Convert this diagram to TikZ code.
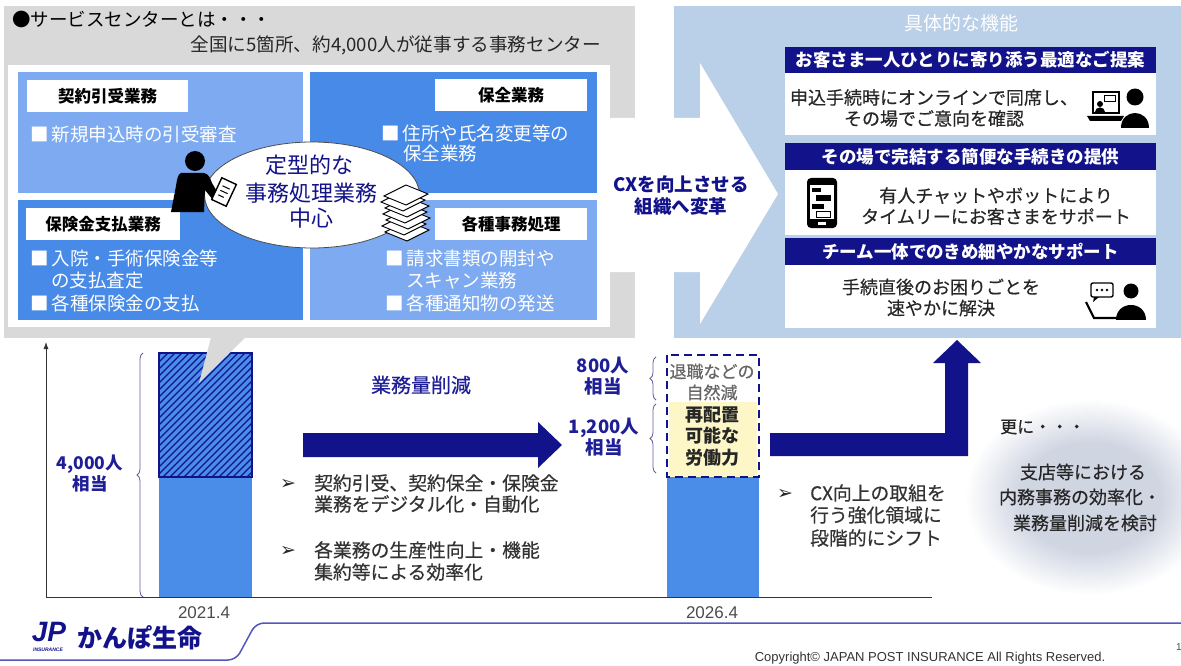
\documentclass[tikz,border=0pt]{standalone}
\usepackage{fontspec}
\setmainfont{Noto Sans CJK JP}
\newfontfamily\medfont{Noto Sans CJK JP}[FakeBold=0.4]
\newfontfamily\symfont{DejaVu Sans}
\newfontfamily\arialfont{Liberation Sans}
\usetikzlibrary{shapes.geometric,decorations.pathreplacing,arrows.meta}
\definecolor{navy}{RGB}{18,18,138}
\definecolor{labelnavy}{RGB}{30,30,150}
\definecolor{panelgray}{RGB}{217,217,217}
\definecolor{lightpanel}{RGB}{186,207,232}
\definecolor{qlight}{RGB}{125,170,240}
\definecolor{qdark}{RGB}{72,138,231}
\definecolor{barblue}{RGB}{74,141,233}
\definecolor{softyellow}{RGB}{253,246,198}
\definecolor{footerblue}{RGB}{85,85,190}
\definecolor{glow}{RGB}{208,213,226}
\pgfdeclareradialshading{softglow}{\pgfpoint{0bp}{0bp}}{color(0bp)=(glow); color(14bp)=(glow); color(25bp)=(white); color(50bp)=(white)}
\newcommand\fsz[2]{\fontsize{#1pt}{#2pt}\selectfont}
\begin{document}
\begin{tikzpicture}[x=1pt,y=-1pt,
  every node/.style={inner sep=0pt},
  quad/.style={minimum width=#1, minimum height=120pt},
  qtext/.style={text=white, font=\fsz{18.5}{22}, anchor=west},
  qhead/.style={fill=white, text=black, font=\bfseries\fsz{16.5}{19}, minimum width=#1, minimum height=32pt},
  bandhead/.style={fill=navy, text=white, font=\bfseries\fsz{17.5}{20}, minimum width=371pt, minimum height=#1},
  bandbody/.style={fill=white, minimum width=371pt, minimum height=#1},
  body/.style={text=black!85, font=\medfont\fsz{18}{21}, align=center},
  navylbl/.style={text=labelnavy, font=\bfseries\fsz{#1}{21}, align=center},
  note/.style={text=black!80, font=\medfont\fsz{18.8}{21}, anchor=west},
  bullet/.style={text=black!85, font=\symfont\fsz{19}{20}},
  year/.style={text=black!70, font=\arialfont\fsz{17}{19}},
  curly/.style={decorate, decoration={brace, amplitude=6pt}, draw=blue!25!gray, line width=0.8pt},
]
\useasboundingbox (0,0) rectangle (1181,666);
\fill[white] (0,0) rectangle (1181,666);

% ---------- service centre panel ----------
\fill[panelgray] (4,6) rectangle (635,338);
\node[anchor=west, font=\fsz{18.5}{20}, text=black] (title) at (12,19) {●サービスセンターとは・・・};
\node[anchor=east, font=\fsz{18.6}{20}, text=black!85] (subtitle) at (601,45) {全国に5箇所、約4,000人が従事する事務センター};
\fill[white] (8,65) rectangle (610,327);

\node[quad=285pt, fill=qlight] (q1) at (160.5,132.5) {};
\node[quad=287pt, fill=qdark]  (q2) at (453.5,132.5) {};
\node[quad=285pt, fill=qdark]  (q3) at (160.5,260) {};
\node[quad=287pt, fill=qlight] (q4) at (453.5,260) {};

\node[qhead=161pt] (h1) at (107.5,96) {契約引受業務};
\node[qhead=152pt] (h2) at (511,95.5) {保全業務};
\node[qhead=154pt] (h3) at (103,224) {保険金支払業務};
\node[qhead=152pt] (h4) at (511,224) {各種事務処理};

\node[qtext] (t1) at (30,134) {■\hspace{3pt}新規申込時の引受審査};
\node[qtext] (t2a) at (381,133) {■\hspace{3pt}住所や氏名変更等の};
\node[qtext] (t2b) at (403,153) {保全業務};
\node[qtext] (t3a) at (30,258) {■\hspace{3pt}入院・手術保険金等};
\node[qtext] (t3b) at (51,281) {の支払査定};
\node[qtext] (t3c) at (30,303) {■\hspace{3pt}各種保険金の支払};
\node[qtext] (t4a) at (385,258) {■\hspace{3pt}請求書類の開封や};
\node[qtext] (t4b) at (406,281) {スキャン業務};
\node[qtext] (t4c) at (385,303) {■\hspace{3pt}各種通知物の発送};

% central bubble
\node[ellipse, draw=black!70, line width=0.8pt, fill=white, minimum width=215pt, minimum height=106pt] (core) at (312,195) {};
\node[text=navy, font=\fsz{22}{24}] (c1) at (309,165) {定型的な};
\node[text=navy, font=\fsz{22}{24}] (c2) at (311,193) {事務処理業務};
\node[text=navy, font=\fsz{22}{24}] (c3) at (311,218) {中心};

% clerk with clipboard
\fill (195,161) circle (10pt);
\fill (181,173) -- (204,173) .. controls (208,174) and (210,177) .. (212,183)
  -- (219,195) -- (213,200) -- (205,190) -- (204,212) -- (171,212)
  -- (176,186) .. controls (177,179) and (178,174) .. (181,173) -- cycle;
\begin{scope}[shift={(224,192)}, rotate=-25]
  \draw[fill=white, line width=1.4pt] (-8,-12) rectangle (8,12);
  \draw[line width=1pt] (-4,-5) -- (4,-5) (-4,0) -- (4,0) (-4,5) -- (2,5);
\end{scope}

% stack of papers
\foreach \dx/\dy in {2/232, -1/226, 3/220, 0/214, 2/208, -2/202, 1/196}{
  \draw[fill=white, line width=0.9pt] (383+\dx,\dy) -- ++(22,-11) -- ++(22,9) -- ++(-22,11) -- cycle;
}

% ---------- features panel ----------
\fill[lightpanel] (674,6) rectangle (1181,338);
\fill[white] (610,118) -- (700,118) -- (700,63) -- (778,194) -- (700,324) -- (700,272) -- (610,272) -- cycle;
\node[text=navy, font=\bfseries\fsz{18.5}{22}, align=center] (cx) at (681,196) {CXを向上させる\\組織へ変革};

\node[text=white, font=\fsz{19}{21}] (feat) at (961,23) {具体的な機能};
\node[bandhead=26pt] (f1) at (970.5,60) {お客さま一人ひとりに寄り添う最適なご提案};
\node[bandbody=62pt] (g1) at (970.5,104) {};
\node[bandhead=27pt] (f2) at (970.5,156.5) {その場で完結する簡便な手続きの提供};
\node[bandbody=65pt] (g2) at (970.5,202.5) {};
\node[bandhead=27pt] (f3) at (970.5,251.5) {チーム一体でのきめ細やかなサポート};
\node[bandbody=63pt] (g3) at (970.5,296.5) {};

\node[body] (d1) at (934,108) {申込手続時にオンラインで同席し、\\その場でご意向を確認};
\node[body] (d2) at (996,206) {有人チャットやボットにより\\タイムリーにお客さまをサポート};
\node[body] (d3) at (941,297.5) {手続直後のお困りごとを\\速やかに解決};

% online meeting icon
\draw[line width=1.6pt] (1093,92) rectangle (1119,113);
\fill (1087,116) -- (1124,116) -- (1121,121) -- (1090,121) -- cycle;
\fill (1100,104) circle (3pt);
\fill (1095,112) .. controls (1095,106) and (1105,106) .. (1105,112) -- cycle;
\draw[line width=1pt] (1104,96) rectangle (1115,102);
\fill (1135,97) circle (8.5pt);
\fill (1121,128) .. controls (1121,108) and (1149,108) .. (1149,128) -- cycle;

% smartphone icon
\fill[rounded corners=4pt] (807,178) rectangle (837,228);
\fill[white] (810,185) rectangle (834,219);
\fill (812,188) rectangle (821,192);
\fill (816,195) rectangle (831,201);
\fill (812,204) rectangle (824,209);
\draw[line width=1pt] (816,211) rectangle (830,217);
\fill[white] (818,222) rectangle (826,225);

% support chat icon
\draw[line width=1.4pt, rounded corners=2pt] (1091,283) rectangle (1113,297);
\fill (1094,297) -- (1099,297) -- (1093,302) -- cycle;
\foreach \px in {1097,1102,1107} \fill (\px,290) circle (1.3pt);
\fill (1131,291) circle (7.5pt);
\fill (1116,320) .. controls (1116,300) and (1146,300) .. (1146,320) -- cycle;
\draw[line width=2.2pt] (1086,302) -- (1094,318) -- (1122,318);

% ---------- staffing chart ----------
\draw[black!80, line width=0.8pt, -{Latex[length=7pt,width=5pt]}] (46,597) -- (46,342);
\draw[black!80, line width=0.8pt] (46,597) -- (932,597);

% 2021.4 bar
\fill[barblue] (159,477) rectangle (252,597);
\begin{scope}
  \clip (159,353) rectangle (252,477);
  \fill[barblue] (159,353) rectangle (252,477);
  \foreach \a in {30,37,...,260} \draw[navy, line width=1.1pt] (\a,477) -- ++(124,-124);
\end{scope}
\draw[navy, line width=2.2pt] (159,353) rectangle (252,477);
\fill[panelgray] (213,330) -- (253,330) -- (199,383) -- cycle;
\draw[curly] (143,597) -- (143,353);
\node[navylbl=17.5] (n4000) at (90,474) {4,000人\\相当};
\node[year] (y1) at (204,613) {2021.4};

% reduction arrow
\node[text=labelnavy, font=\medfont\fsz{20}{24}] (cut) at (421,385) {業務量削減};
\fill[navy] (303,433) -- (538,433) -- (538,422) -- (562,445) -- (538,468) -- (538,457) -- (303,457) -- cycle;
\node[bullet] (k1) at (288,484) {➢};
\node[note] (m1) at (314,483) {契約引受、契約保全・保険金};
\node[note] (m2) at (314,504) {業務をデジタル化・自動化};
\node[bullet] (k2) at (288,551) {➢};
\node[note] (m3) at (314,550) {各業務の生産性向上・機能};
\node[note] (m4) at (314,572) {集約等による効率化};

% 2026.4 bar
\fill[barblue] (667,477) rectangle (759,597);
\fill[softyellow] (669,402) rectangle (757,477);
\draw[navy, line width=2.6pt, dash pattern=on 8pt off 5pt] (667,355) rectangle (759,477);
\node[text=black!60, font=\medfont\fsz{17}{21}, align=center] (nat) at (712,382) {退職などの\\自然減};
\node[text=black!85, font=\bfseries\fsz{18}{21.5}, align=center] (re) at (712,436.5) {再配置\\可能な\\労働力};
\draw[curly] (656,400) -- (656,357);
\draw[curly] (656,473) -- (656,404);
\node[navylbl=18.5] (n800) at (603,376.5) {800人\\相当};
\node[navylbl=18.5] (n1200) at (604,437.5) {1,200人\\相当};
\node[year] (y2) at (712,613) {2026.4};

% shift arrow towards the CX functions
\fill[navy] (770,433) -- (945,433) -- (945,363) -- (933,363) -- (957,340) -- (981,363)
  -- (968,363) -- (968,456) -- (770,456) -- cycle;
\node[bullet] (k3) at (785,494) {➢};
\node[note] (s1) at (810,493) {CX向上の取組を};
\node[note] (s2) at (810,515) {行う強化領域に};
\node[note] (s3) at (810,538) {段階的にシフト};

% further study
\shade[shading=softglow] (1090,497) ellipse [x radius=125, y radius=98];
\node[anchor=west, text=black!85, font=\medfont\fsz{17}{20}] (more) at (1000,427) {更に・・・};
\node[text=black!85, font=\medfont\fsz{18}{21}] (w1) at (1083,472) {支店等における};
\node[text=black!85, font=\medfont\fsz{18}{21}] (w2) at (1080,497) {内務事務の効率化・};
\node[text=black!85, font=\medfont\fsz{18}{21}] (w3) at (1085,523) {業務量削減を検討};

% ---------- footer ----------
\draw[footerblue, line width=1.5pt, rounded corners=8pt] (0,660) -- (236,660) -- (256,623) -- (1181,623);
\node[text=navy, font=\arialfont\bfseries\itshape\fsz{28}{30}] (jp) at (49,632) {JP};
\node[text=navy, font=\arialfont\bfseries\itshape\fsz{5}{6}] (ins) at (48,650) {INSURANCE};
\node[text=navy, font=\bfseries\fsz{25}{27}] (brand) at (140,638) {かんぽ生命};
\node[text=black!80, font=\arialfont\fsz{13}{15}] (copy) at (930,658) {Copyright© JAPAN POST INSURANCE All Rights Reserved.};
\node[anchor=west, text=black!70, font=\arialfont\fsz{10}{12}] (pg) at (1176,647) {1};
\end{tikzpicture}
\end{document}
